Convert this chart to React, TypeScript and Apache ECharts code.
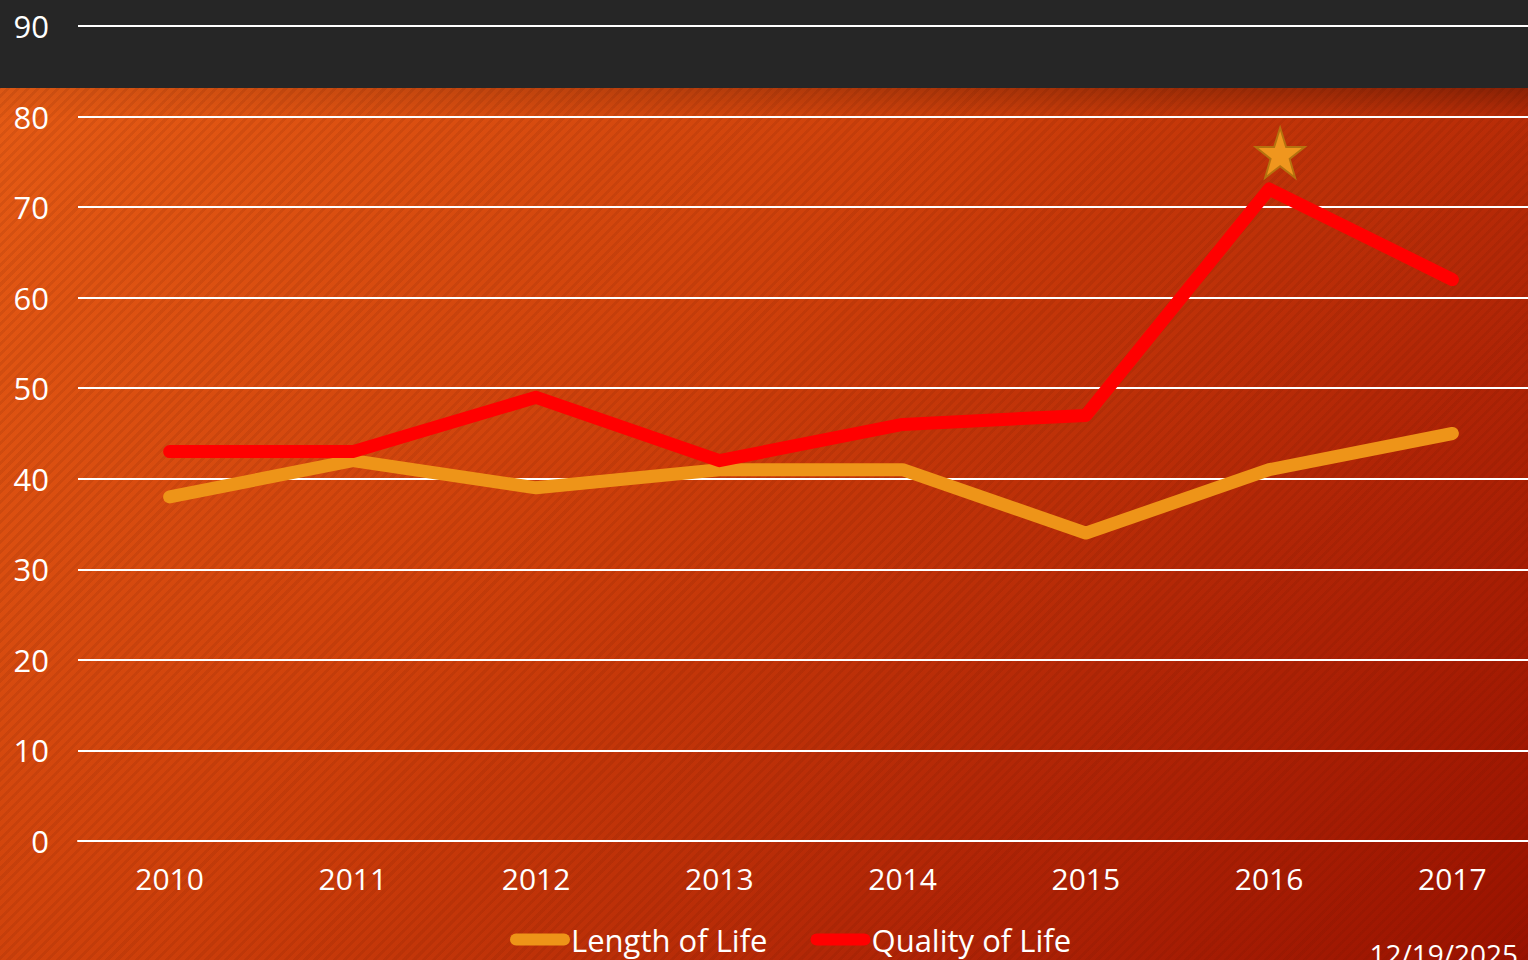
import React, { useEffect, useRef } from "react";
import * as echarts from "echarts";

const years = ["2010", "2011", "2012", "2013", "2014", "2015", "2016", "2017"];
const lengthOfLife = [38, 42, 39, 41, 41, 34, 41, 45];
const qualityOfLife = [43, 43, 49, 42, 46, 47, 72, 62];
const starPoint = { year: "2016", value: 76 };
const dateText = "12/19/2025";

const FONT = "'Open Sans', 'Noto Sans', sans-serif";
const STAR = "path://M50,0 L61.8,35.1 L98.1,35.1 L68.8,56.8 L79.4,91 L50,70 L20.6,91 L31.2,56.8 L1.9,35.1 L38.2,35.1 Z";
const PILL = "path://M6,0 L54,0 A6,6 0 0 1 54,12 L6,12 A6,6 0 0 1 6,0 Z";

export default function App() {
  const ref = useRef<HTMLDivElement>(null);
  useEffect(() => {
    document.body.style.margin = "0";
    const chart = echarts.init(ref.current!, null, { renderer: "svg" });
    chart.setOption({
      animation: false,
      backgroundColor: "transparent",
      textStyle: { fontFamily: FONT },
      grid: { left: 78, top: 26, right: 0, bottom: 119, containLabel: false },
      xAxis: {
        type: "category",
        data: years,
        boundaryGap: true,
        axisLine: { show: true, lineStyle: { color: "#ffffff", width: 2 } },
        axisTick: { show: false },
        axisLabel: { color: "#ffffff", fontSize: 30, margin: 22, fontFamily: FONT },
      },
      yAxis: {
        type: "value",
        min: 0,
        max: 90,
        interval: 10,
        axisLine: { show: false },
        axisTick: { show: false },
        axisLabel: { color: "#ffffff", fontSize: 31, margin: 29, fontFamily: FONT },
        splitLine: { lineStyle: { color: "#ffffff", width: 2 } },
      },
      legend: {
        left: 505,
        top: 919,
        itemWidth: 60,
        itemHeight: 12,
        itemGap: 43,
        icon: PILL,
        textStyle: { color: "#ffffff", fontSize: 31, fontFamily: FONT, padding: [0, 0, 0, -4] },
        data: ["Length of Life", "Quality of Life"],
      },
      series: [
        {
          name: "Length of Life",
          type: "line",
          data: lengthOfLife,
          showSymbol: false,
          symbol: "none",
          lineStyle: { color: "#EE9418", width: 13, cap: "round", join: "round" },
          itemStyle: { color: "#EE9418" },
          z: 2,
        },
        {
          name: "Quality of Life",
          type: "line",
          data: qualityOfLife,
          showSymbol: false,
          symbol: "none",
          lineStyle: { color: "#FF0000", width: 13, cap: "round", join: "round" },
          itemStyle: { color: "#FF0000" },
          z: 3,
          markPoint: {
            symbol: STAR,
            symbolSize: [49, 50],
            symbolOffset: [11, 0],
            label: { show: false },
            itemStyle: { color: "#F0961E", borderColor: "#B5720F", borderWidth: 2 },
            data: [{ coord: [starPoint.year, starPoint.value] }],
          },
        },
      ],
      graphic: [
        {
          type: "text",
          right: 26,
          top: 940,
          style: { text: dateText, fill: "#ffffff", fontSize: 28, fontFamily: FONT },
        },
      ],
    });
    return () => chart.dispose();
  }, []);

  return (
    <div
      style={{
        position: "fixed",
        left: 0,
        top: 0,
        width: 1528,
        height: 960,
        overflow: "hidden",
        background:
          "repeating-linear-gradient(135deg, rgba(0,0,0,0) 0px, rgba(0,0,0,0) 4px, rgba(90,20,0,0.10) 4px, rgba(90,20,0,0.10) 7px), linear-gradient(135deg, #E85E16 0%, #CC3E0A 45%, #B02406 75%, #9A1200 100%)",
      }}
    >
      <div
        style={{
          position: "absolute",
          left: 0,
          top: 88,
          width: 1528,
          height: 30,
          background: "linear-gradient(90deg, rgba(0,0,0,0.05), rgba(0,0,0,0.25))",
          WebkitMaskImage: "linear-gradient(180deg, black, transparent)",
          maskImage: "linear-gradient(180deg, black, transparent)",
        }}
      />
      <div style={{ position: "absolute", left: 0, top: 0, width: 1528, height: 88, background: "#262626" }} />
      <div ref={ref} style={{ position: "absolute", left: 0, top: 0, width: 1544, height: 960 }} />
    </div>
  );
}
